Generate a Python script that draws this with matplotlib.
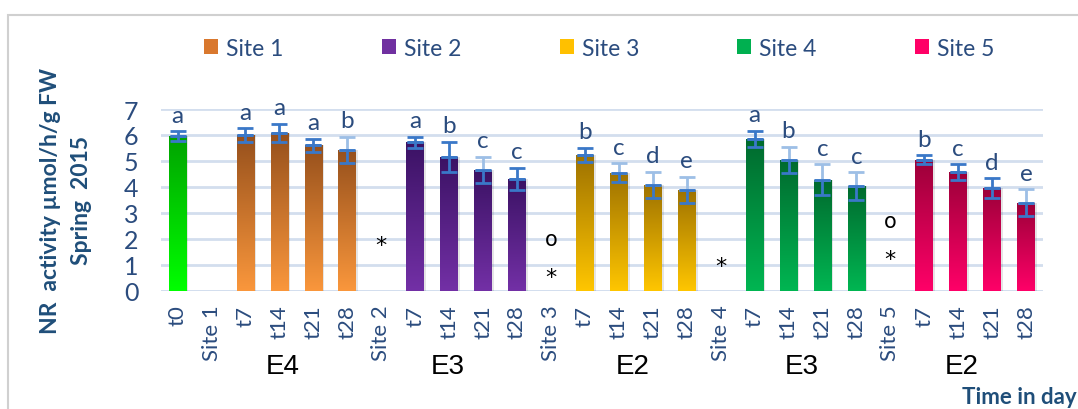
import numpy as np
import matplotlib
matplotlib.use("Agg")
import matplotlib.pyplot as plt
from matplotlib.patches import Patch, Rectangle
from matplotlib.colors import LinearSegmentedColormap

# ---------------- data ----------------
tick_labels = ["t0", "Site 1", "t7", "t14", "t21", "t28",
               "Site 2", "t7", "t14", "t21", "t28",
               "Site 3", "t7", "t14", "t21", "t28",
               "Site 4", "t7", "t14", "t21", "t28",
               "Site 5", "t7", "t14", "t21", "t28"]
# NaN = no bar (site separator category)
values = [5.96, np.nan, 6.00, 6.08, 5.61, 5.42,
          np.nan, 5.72, 5.15, 4.65, 4.30,
          np.nan, 5.23, 4.54, 4.07, 3.88,
          np.nan, 5.85, 5.04, 4.27, 4.03,
          np.nan, 5.04, 4.57, 3.96, 3.38]
errors = [0.18, 0, 0.26, 0.35, 0.25, 0.51,
          0, 0.22, 0.59, 0.50, 0.42,
          0, 0.26, 0.37, 0.51, 0.51,
          0, 0.30, 0.51, 0.60, 0.53,
          0, 0.17, 0.30, 0.37, 0.52]
letters = ["a", "", "a", "a", "a", "b",
           "", "a", "b", "c", "c",
           "", "b", "c", "d", "e",
           "", "a", "b", "c", "c",
           "", "b", "c", "d", "e"]
# light upper error half (as in the reference rendering)
light_upper = [0, 0, 0, 0, 0, 1,
               0, 0, 0, 1, 0,
               0, 0, 1, 1, 1,
               0, 0, 1, 1, 1,
               0, 0, 0, 0, 1]
group_of_bar = ["t0", None, "s1", "s1", "s1", "s1",
                None, "s2", "s2", "s2", "s2",
                None, "s3", "s3", "s3", "s3",
                None, "s4", "s4", "s4", "s4",
                None, "s5", "s5", "s5", "s5"]
legend_labels = ["Site 1", "Site 2", "Site 3", "Site 4", "Site 5"]
# markers placed at the site-separator categories: (category index, y, symbol)
marker_pos = [6, 11, 11, 16, 21, 21]
marker_y = [1.75, 2.0, 0.53, 0.96, 2.7, 1.22]
marker_sym = ["*", "o", "*", "*", "o", "*"]
env_labels = ["E4", "E3", "E2", "E3", "E2"]
env_pos = [3.1, 7.95, 13.4, 18.4, 23.1]

# gradients (top colour, bottom colour)
grad = {
    "t0": ("#00A300", "#00FF00"),
    "s1": ("#96501C", "#FA973C"),
    "s2": ("#3B1264", "#7330A6"),
    "s3": ("#9E7200", "#FFC600"),
    "s4": ("#006A2E", "#00B652"),
    "s5": ("#9C0039", "#FF0068"),
}
legend_colors = ["#D9782E", "#7030A0", "#FFC000", "#00B050", "#FF0066"]

tick_color = "#2B4C7E"
dark_err = "#3A78C8"
light_err = "#9DBFE6"

plt.rcParams["font.family"] = ["Lato", "DejaVu Sans"]

fig = plt.figure(figsize=(10.78, 4.10), dpi=100)
ax = fig.add_axes([0.149, 0.2885, 0.8186, 0.4432])

x = np.arange(len(tick_labels))
vals = np.array(values, dtype=float)
errs = np.array(errors, dtype=float)
width = 0.52

ax.set_xlim(-0.5, len(tick_labels) - 0.5)
ax.set_ylim(0, 7)

bars = ax.bar(x, np.nan_to_num(vals), width=width, color="none",
              edgecolor="none", zorder=2)
for i, b in enumerate(bars):
    if np.isnan(vals[i]):
        continue
    top, bot = grad[group_of_bar[i]]
    cmap = LinearSegmentedColormap.from_list("g", [bot, top])
    g = np.linspace(0, 1, 256).reshape(-1, 1)
    bx, bw, bh = b.get_x(), b.get_width(), b.get_height()
    # soft shadow
    ax.add_patch(Rectangle((bx + 0.06, 0), bw, bh, facecolor="#000000",
                           alpha=0.10, edgecolor="none", zorder=1.5))
    im = ax.imshow(g, cmap=cmap, origin="lower", aspect="auto",
                   extent=(bx, bx + bw, 0, bh), zorder=2.1)
    im.set_clip_path(b)

mask = ~np.isnan(vals)
# lower half of error bars (dark)
ax.errorbar(x[mask], vals[mask], yerr=[errs[mask], np.zeros(mask.sum())],
            fmt="none", ecolor=dark_err, elinewidth=2, capsize=6,
            capthick=2, zorder=4)
lu = np.array(light_upper, dtype=bool)
m_dark = mask & ~lu
m_light = mask & lu
ax.errorbar(x[m_dark], vals[m_dark], yerr=[np.zeros(m_dark.sum()), errs[m_dark]],
            fmt="none", ecolor=dark_err, elinewidth=2, capsize=6,
            capthick=2, zorder=4)
ax.errorbar(x[m_light], vals[m_light], yerr=[np.zeros(m_light.sum()), errs[m_light]],
            fmt="none", ecolor=light_err, elinewidth=2, capsize=6,
            capthick=2, zorder=3.9)

# significance letters
for i in range(len(x)):
    if letters[i]:
        ax.text(x[i], vals[i] + errs[i] + 0.22, letters[i], ha="center",
                va="bottom", fontsize=17.5, color=tick_color, clip_on=False,
                zorder=5)

# markers * and o
for p, yv, s in zip(marker_pos, marker_y, marker_sym):
    ax.text(p, yv, s, ha="center", va="center", fontsize=15 if s == "o" else 16,
            color="black", family=["DejaVu Sans"], zorder=5)

# grid & spines
ax.yaxis.grid(True, color="#D3DEEE", linewidth=2, zorder=0)
ax.set_axisbelow(True)
for s in ax.spines.values():
    s.set_visible(False)
ax.axhline(0, color="#D3DEEE", linewidth=2, zorder=1)

ax.set_yticks(range(0, 8))
ax.tick_params(axis="y", length=0, labelsize=18, labelcolor=tick_color, pad=16)
ax.set_xticks(x)
ax.set_xticklabels(tick_labels, rotation=90, fontsize=16, color=tick_color)
ax.tick_params(axis="x", length=0, pad=10)

ax.set_ylabel("NR  activity µmol/h/g FW\nSpring  2015", fontsize=16.5,
              fontweight="bold", color="#1F4E79", labelpad=23, linespacing=1.55)

# environment labels under the x ticks
for p, lab in zip(env_pos, env_labels):
    ax.text(p, -(367 - 291.7) / (0.4432 * 410), lab,
            transform=ax.get_xaxis_transform(), ha="center",
            va="center", fontsize=20, color="black",
            family=["Liberation Sans", "DejaVu Sans"])

# legend
handles = [Patch(facecolor=c, edgecolor="none") for c in legend_colors]
fig.legend(handles, legend_labels, loc="center", ncol=5,
           bbox_to_anchor=(0.556, 0.880), frameon=False, fontsize=16.5,
           labelcolor=tick_color, handlelength=0.6, handleheight=0.6,
           handletextpad=0.35, columnspacing=4.3)

fig.text(0.9985, 1 - 398 / 410, "Time in day", ha="right", va="center",
         fontsize=16, fontweight="bold", color="#1F4E79")

# chart border
fig.add_artist(Rectangle((8 / 1078, -0.05), 1.2, 1 - 16 / 410 + 0.05,
                         transform=fig.transFigure, fill=False,
                         edgecolor="#D0D0D0", linewidth=1.5))

fig.savefig("out.png", dpi=100)
